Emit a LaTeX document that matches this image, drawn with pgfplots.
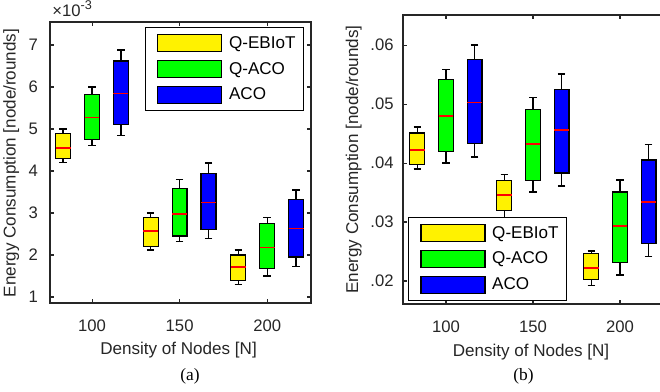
\documentclass[border=0pt]{standalone}
\usepackage{fontspec}
\setmainfont{Liberation Sans}
\newfontfamily\seriffont{Liberation Serif}
\usepackage{pgfplots}
\pgfplotsset{compat=1.18}
\usepgfplotslibrary{statistics}
\definecolor{axgray}{gray}{0.15}
\newcommand{\lblfont}{\fontsize{12.8}{15}\selectfont}
\newcommand{\tckfont}{\fontsize{12.5}{15}\selectfont}
\pgfplotsset{
  common/.style={
    scale only axis, anchor=south west,
    xtick={100,150,200},
    tick align=inside, xtick pos=both, ytick pos=both,
    major tick length=3pt,
    axis line style={line width=1.3pt, draw=axgray},
    every tick/.style={axgray, line width=0.8pt},
    tick label style={font=\tckfont, text=axgray},
    /pgf/number format/assume math mode=true,
    xticklabel style={yshift=-9pt},
    boxplot/draw direction=y,
    boxplot/box extend=8.5,
    boxplot/whisker extend=4.3,
    boxplot/every median/.style={draw=red, line width=1.1pt},
    boxplot/every whisker/.style={draw=black, line width=1pt},
    boxplot/every box/.style={draw=black, line width=0.9pt},
    legend cell align=left,
    legend style={draw=black, line width=0.75pt, fill=white, font=\lblfont,
      inner xsep=1pt, inner ysep=5pt, row sep=5.6pt,
      nodes={inner xsep=5pt, inner ysep=0pt, text=black}},
  },
  limg/.style={legend image code/.code={\path (0pt,0pt); \draw[fill=#1, draw=black, line width=0.9pt] (8pt,-6.4pt) rectangle (56pt,6.4pt);}},
}
\begin{document}
\begin{tikzpicture}
% ---------- (a) ----------
\begin{axis}[common, at={(37.5pt,66.75pt)}, width=195.75pt, height=210.75pt,
  xmin=76, xmax=225, ymin=0.857, ymax=7.548, ytick={1,2,3,4,5,6,7},
  yticklabel style={xshift=-5.5pt},
  legend style={at={(0.973,0.982)}, anchor=north east}]
\addlegendimage{limg=yellow}\addlegendentry{Q-EBIoT}
\addlegendimage{limg=green}\addlegendentry{Q-ACO}
\addlegendimage{limg=blue}\addlegendentry{ACO}
% 100
\addplot[fill=yellow, draw=black, forget plot, boxplot prepared={draw position=83.5, lower whisker=4.2, lower quartile=4.3, median=4.55, upper quartile=4.9, upper whisker=5.0}] coordinates {};
\addplot[fill=green, draw=black, forget plot, boxplot prepared={draw position=100, lower whisker=4.6, lower quartile=4.75, median=5.27, upper quartile=5.83, upper whisker=6.0}] coordinates {};
\addplot[fill=blue, draw=black, forget plot, boxplot prepared={draw position=116.5, lower whisker=4.85, lower quartile=5.1, median=5.85, upper quartile=6.62, upper whisker=6.88}] coordinates {};
% 150
\addplot[fill=yellow, draw=black, forget plot, boxplot prepared={draw position=133.5, lower whisker=2.12, lower quartile=2.2, median=2.57, upper quartile=2.9, upper whisker=3.0}] coordinates {};
\addplot[fill=green, draw=black, forget plot, boxplot prepared={draw position=150, lower whisker=2.32, lower quartile=2.45, median=2.98, upper quartile=3.58, upper whisker=3.79}] coordinates {};
\addplot[fill=blue, draw=black, forget plot, boxplot prepared={draw position=166.5, lower whisker=2.4, lower quartile=2.6, median=3.25, upper quartile=3.95, upper whisker=4.19}] coordinates {};
% 200
\addplot[fill=yellow, draw=black, forget plot, boxplot prepared={draw position=183.5, lower whisker=1.3, lower quartile=1.4, median=1.71, upper quartile=2.0, upper whisker=2.12}] coordinates {};
\addplot[fill=green, draw=black, forget plot, boxplot prepared={draw position=200, lower whisker=1.5, lower quartile=1.68, median=2.18, upper quartile=2.75, upper whisker=2.9}] coordinates {};
\addplot[fill=blue, draw=black, forget plot, boxplot prepared={draw position=216.5, lower whisker=1.72, lower quartile=1.95, median=2.63, upper quartile=3.33, upper whisker=3.55}] coordinates {};
\end{axis}
% ---------- (b) ----------
\begin{axis}[common, at={(302.25pt,66pt)}, width=195.75pt, height=216.75pt,
  xmin=75.3, xmax=225.3, ymin=0.0161, ymax=0.0651,
  scaled y ticks=false,
  ytick={0.02,0.03,0.04,0.05,0.06}, yticklabels={.02,.03,.04,.05,.06},
  yticklabel style={xshift=-3.5pt},
  legend style={at={(0.019,0.0104)}, anchor=south west}]
\addplot[fill=yellow, draw=black, forget plot, boxplot prepared={draw position=83.5, lower whisker=0.0390, lower quartile=0.0398, median=0.0422, upper quartile=0.0451, upper whisker=0.0461}] coordinates {};
\addplot[fill=green, draw=black, forget plot, boxplot prepared={draw position=100, lower whisker=0.0400, lower quartile=0.0420, median=0.0480, upper quartile=0.0541, upper whisker=0.0559}] coordinates {};
\addplot[fill=blue, draw=black, forget plot, boxplot prepared={draw position=116.5, lower whisker=0.0410, lower quartile=0.0433, median=0.0503, upper quartile=0.0575, upper whisker=0.0600}] coordinates {};
\addplot[fill=yellow, draw=black, forget plot, boxplot prepared={draw position=133.5, lower whisker=0.0305, lower quartile=0.0319, median=0.0346, upper quartile=0.0371, upper whisker=0.0381}] coordinates {};
\addplot[fill=green, draw=black, forget plot, boxplot prepared={draw position=150, lower whisker=0.0351, lower quartile=0.0371, median=0.0432, upper quartile=0.0491, upper whisker=0.0511}] coordinates {};
\addplot[fill=blue, draw=black, forget plot, boxplot prepared={draw position=166.5, lower whisker=0.0361, lower quartile=0.0383, median=0.0456, upper quartile=0.0525, upper whisker=0.0551}] coordinates {};
\addplot[fill=yellow, draw=black, forget plot, boxplot prepared={draw position=183.5, lower whisker=0.0192, lower quartile=0.0202, median=0.0222, upper quartile=0.0247, upper whisker=0.0251}] coordinates {};
\addplot[fill=green, draw=black, forget plot, boxplot prepared={draw position=200, lower whisker=0.0210, lower quartile=0.0232, median=0.0293, upper quartile=0.0351, upper whisker=0.0371}] coordinates {};
\addplot[fill=blue, draw=black, forget plot, boxplot prepared={draw position=216.5, lower whisker=0.0241, lower quartile=0.0264, median=0.0334, upper quartile=0.0405, upper whisker=0.0431}] coordinates {};
\addlegendimage{limg=yellow}\addlegendentry{Q-EBIoT}
\addlegendimage{limg=green}\addlegendentry{Q-ACO}
\addlegendimage{limg=blue}\addlegendentry{ACO}
\end{axis}
% ---------- labels ----------
\node[anchor=base, font=\lblfont, text=axgray] at (133.9pt,27.75pt) {Density of Nodes [N]};
\node[anchor=base, font=\lblfont, text=axgray] at (398.25pt,26.5pt) {Density of Nodes [N]};
\node[rotate=90, anchor=base, font=\lblfont, text=axgray] at (11.8pt,171.75pt) {Energy Consumption [node/rounds]};
\node[rotate=90, anchor=base, font=\lblfont, text=axgray] at (268.5pt,174.4pt) {Energy Consumption [node/rounds]};
\node[anchor=base west, inner sep=0pt, font=\tckfont, text=axgray] at (39pt,281.5pt) {×10\raisebox{0.8ex}{\fontsize{9.5}{11}\selectfont -3}};
\node[anchor=base, font=\seriffont\fontsize{13}{15}\selectfont] at (142.5pt,8.25pt) {(a)};
\node[anchor=base, font=\seriffont\fontsize{13}{15}\selectfont] at (392.6pt,8.25pt) {(b)};
\pgfresetboundingbox
\useasboundingbox (0pt,0pt) rectangle (495pt,294pt);
\end{tikzpicture}
\end{document}
